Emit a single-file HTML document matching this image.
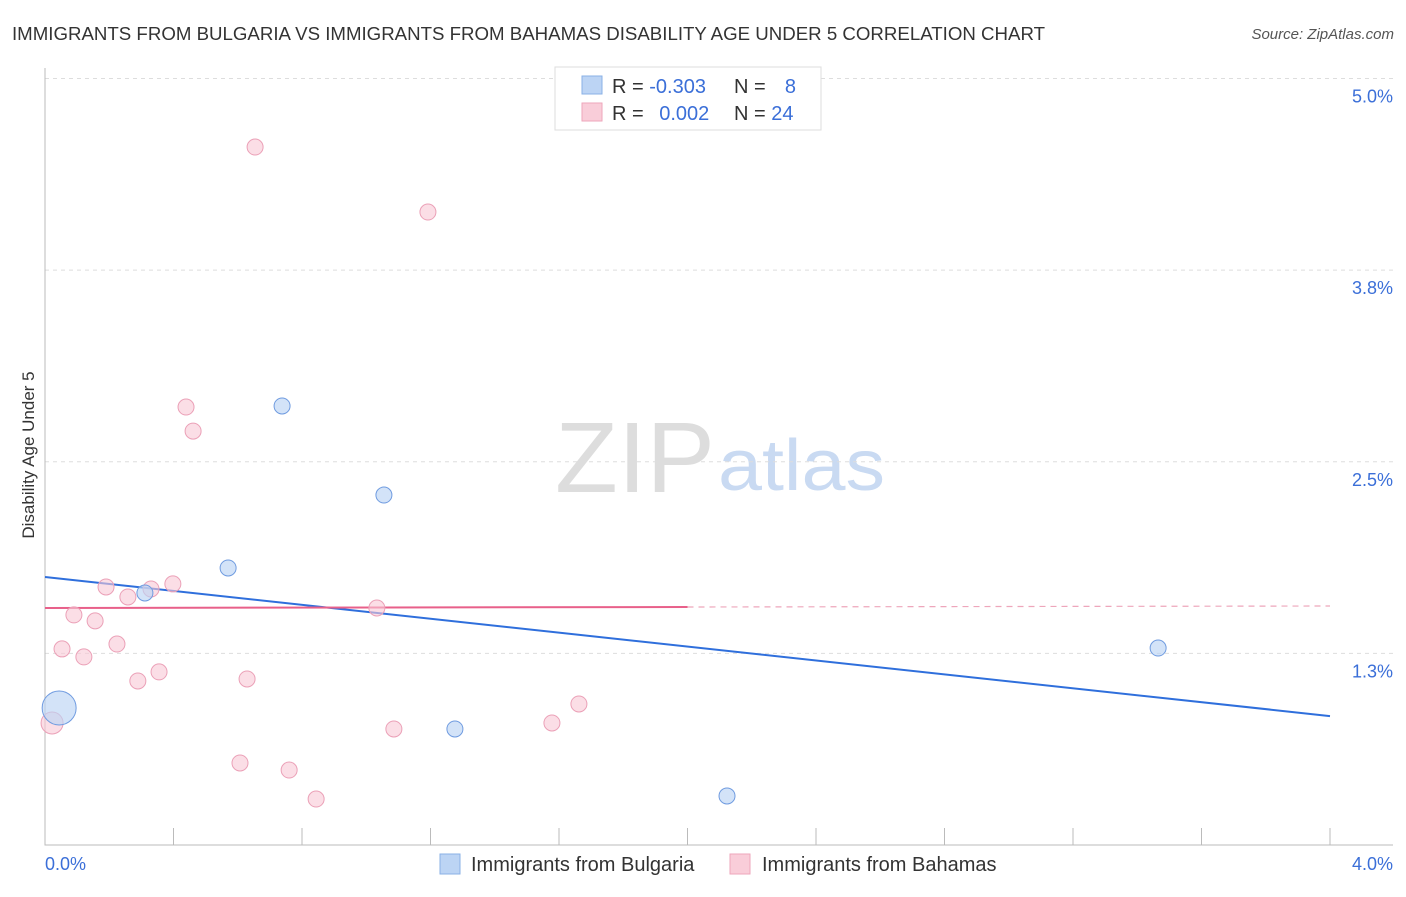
<!DOCTYPE html>
<html><head><meta charset="utf-8"><style>
body{margin:0;background:#fff;font-family:"Liberation Sans",sans-serif;}
svg text{font-family:"Liberation Sans",sans-serif;}
</style></head><body>
<svg id="chart" width="1406" height="892" xmlns="http://www.w3.org/2000/svg">
<text x="12" y="40" font-size="18" fill="#333" textLength="1033" lengthAdjust="spacingAndGlyphs">IMMIGRANTS FROM BULGARIA VS IMMIGRANTS FROM BAHAMAS DISABILITY AGE UNDER 5 CORRELATION CHART</text>
<text x="1394" y="39" font-size="15" fill="#555" text-anchor="end" font-style="italic">Source: ZipAtlas.com</text>
<text x="555" y="492" font-size="100" fill="#ddd" textLength="160" lengthAdjust="spacingAndGlyphs" font-family="Liberation Serif">ZIP</text>
<text x="718" y="490" font-size="72" fill="#c9daf2" textLength="167" lengthAdjust="spacingAndGlyphs">atlas</text>
<g id="grid"></g><g id="axes"></g><g id="lines"></g><g id="pts"></g>
<text transform="translate(34,455) rotate(-90)" font-size="17" fill="#333" text-anchor="middle">Disability Age Under 5</text>
<g>
<rect x="555" y="67" width="266" height="63" fill="#fff" stroke="#ddd"/>
<rect x="582" y="76" width="20" height="18" fill="#bcd4f4" stroke="#8ab0e6"/>
<rect x="582" y="103" width="20" height="18" fill="#f9cdd9" stroke="#eea6bb"/>
<text x="612" y="93" font-size="20" fill="#333">R = <tspan fill="#3b6fd8">-0.303</tspan></text>
<text x="734" y="93" font-size="20" fill="#333">N = </text><text x="796" y="93" font-size="20" fill="#3b6fd8" text-anchor="end">8</text>
<text x="612" y="120" font-size="20" fill="#333">R = <tspan fill="#3b6fd8" dx="10">0.002</tspan></text>
<text x="734" y="120" font-size="20" fill="#333">N = <tspan fill="#3b6fd8">24</tspan></text>
</g>
<g>
<rect x="440" y="854" width="20" height="20" fill="#bcd4f4" stroke="#8ab0e6"/>
<text x="471" y="871" font-size="20" fill="#333">Immigrants from Bulgaria</text>
<rect x="730" y="854" width="20" height="20" fill="#f9cdd9" stroke="#eea6bb"/>
<text x="762" y="871" font-size="20" fill="#333">Immigrants from Bahamas</text>
</g>
</svg>
<script>
const yTicks=[5.0,3.75,2.5,1.25];
const yTickLabels=["5.0%","3.8%","2.5%","1.3%"];
const xTickLabels=["0.0%","4.0%"];
const bulgariaX=[0.044,0.311,0.570,0.738,1.055,1.276,2.123,3.465];
const bulgariaY=[0.894,1.644,1.807,2.864,2.283,0.757,0.320,1.285];
const bulgariaR=[17,8,8,8,8,8,8,8];
const bahamasX=[0.022,0.053,0.090,0.121,0.156,0.190,0.224,0.258,0.289,0.330,0.355,0.398,0.439,0.461,0.607,0.629,0.654,0.760,0.844,1.033,1.086,1.192,1.578,1.662];
const bahamasY=[0.796,1.279,1.501,1.227,1.462,1.683,1.311,1.618,1.070,1.670,1.129,1.703,2.857,2.700,0.535,1.083,4.553,0.489,0.300,1.546,0.757,4.129,0.796,0.920];
const bulgariaTrend=[1.748,0.841];
const bahamasTrend=[1.546,1.559];
const X=v=>45+v/4*1285, Y=v=>845-v*153.3;
const NS="http://www.w3.org/2000/svg";
function mk(p,t,a){const e=document.createElementNS(NS,t);for(const k in a)e.setAttribute(k,a[k]);document.getElementById(p).appendChild(e);return e;}
yTicks.forEach((t,i)=>{
 const l=mk('grid','line',{x1:45,x2:1393,y1:Y(t),y2:Y(t),stroke:'#ddd','stroke-dasharray':'4,4'});
 
 
 const tx=mk('grid','text',{x:1393,y:Y(t)+24,'font-size':18,fill:'#3b6fd8','text-anchor':'end'});
 tx.textContent=yTickLabels[i];
 
 
});
const ax=mk('axes','path',{d:'M45,68V845H1393',stroke:'#bbb',fill:'none'});


for(let i=0;i<=10;i++){const t=mk('axes','line',{x1:X(i*0.4),x2:X(i*0.4),y1:828,y2:845,stroke:'#bbb'});
 
 }
[[0,45,'start'],[4,1393,'end']].forEach((a,i)=>{const t=mk('axes','text',{x:a[1],y:870,'font-size':18,fill:'#3b6fd8','text-anchor':a[2]});t.textContent=xTickLabels[i];
 
 });
const bl=mk('lines','line',{x1:X(0),x2:X(4),y1:Y(bulgariaTrend[0]),y2:Y(bulgariaTrend[1]),stroke:'#2f6fdc','stroke-width':2});


const ym=bahamasTrend[0]+(bahamasTrend[1]-bahamasTrend[0])*0.5;
const pl=mk('lines','line',{x1:X(0),x2:X(2),y1:Y(bahamasTrend[0]),y2:Y(ym),stroke:'#e8608a','stroke-width':2});


const pd=mk('lines','line',{x1:X(2),x2:X(4),y1:Y(ym),y2:Y(bahamasTrend[1]),stroke:'#eea6bb','stroke-width':1.2,'stroke-dasharray':'6,5'});


bahamasX.forEach((x,i)=>{const c=mk('pts','circle',{cx:X(x),cy:Y(bahamasY[i]),r:i==0?11:8,fill:'rgba(249,200,214,0.6)',stroke:'#eba0b7','stroke-width':1});
 
 });
bulgariaX.forEach((x,i)=>{const c=mk('pts','circle',{cx:X(x),cy:Y(bulgariaY[i]),r:bulgariaR[i],fill:'rgba(188,212,244,0.65)',stroke:'#6f9be0','stroke-width':1});
 
 });
</script>
</body></html>
